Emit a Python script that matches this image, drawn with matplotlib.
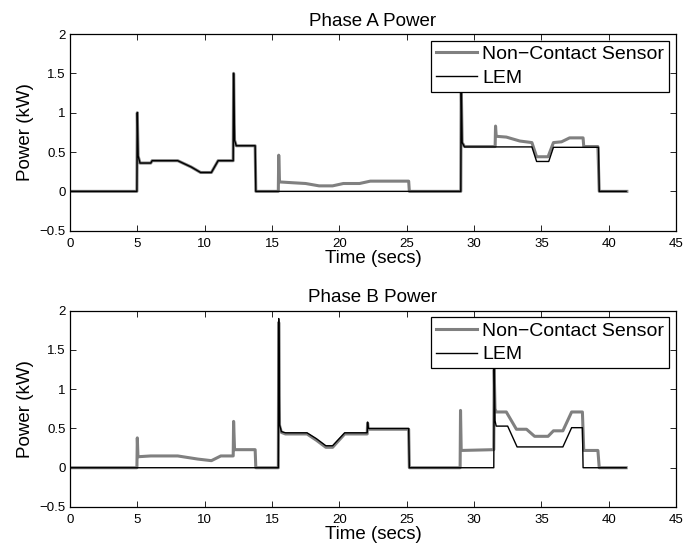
import numpy as np
import matplotlib
matplotlib.use('Agg')
import matplotlib.pyplot as plt

plt.rcParams['font.family'] = ['Liberation Sans', 'DejaVu Sans']
plt.rcParams['axes.unicode_minus'] = True

# Phase A, LEM reference meter (breakpoints: time s, power kW)
a_lem_t = [0, 4.97, 5.0, 5.06, 5.2, 6.0, 6.1, 8.0, 9.0, 9.7, 10.5, 11.0,
           12.12, 12.15, 12.22, 12.35, 13.75, 13.8, 29.02, 29.05, 29.12,
           29.3, 34.3, 34.65, 35.55, 35.9, 39.25, 39.3, 41.3]
a_lem_p = [0, 0, 1.0, 0.45, 0.36, 0.36, 0.39, 0.39, 0.31, 0.24, 0.24, 0.39,
           0.39, 1.5, 0.65, 0.58, 0.58, 0, 0, 1.4, 0.62,
           0.565, 0.565, 0.38, 0.38, 0.56, 0.56, 0, 0]

# Phase A, non-contact sensor
a_ncs_t = [0, 4.97, 5.0, 5.06, 5.2, 6.0, 6.1, 8.0, 9.0, 9.7, 10.5, 11.0,
           12.12, 12.15, 12.22, 12.35, 13.75, 13.8, 15.47, 15.5, 15.56, 16.5,
           17.5, 18.5, 19.5, 20.3, 21.5, 22.3, 25.15, 25.2, 29.02, 29.05,
           29.12, 29.3, 31.57, 31.6, 31.65, 32.4, 33.4, 34.3, 34.65, 35.5,
           35.9, 36.5, 37.1, 38.1, 38.15, 39.2, 39.3, 41.35]
a_ncs_p = [0, 0, 1.0, 0.45, 0.36, 0.36, 0.39, 0.39, 0.31, 0.24, 0.24, 0.39,
           0.39, 1.5, 0.65, 0.58, 0.58, 0, 0, 0.46, 0.12, 0.11,
           0.1, 0.07, 0.07, 0.1, 0.1, 0.13, 0.13, 0, 0, 1.4,
           0.62, 0.57, 0.57, 0.83, 0.7, 0.69, 0.64, 0.62, 0.44, 0.44,
           0.62, 0.63, 0.68, 0.68, 0.57, 0.57, 0, 0]

# Phase B, LEM reference meter
b_lem_t = [0, 15.47, 15.5, 15.56, 15.7, 16.0, 17.6, 18.3, 19.0, 19.5,
           20.4, 22.07, 22.1, 22.15, 25.15, 25.2, 31.47, 31.5, 31.56, 31.65,
           32.5, 33.2, 36.6, 37.25, 38.05, 38.1, 41.3]
b_lem_p = [0, 0, 1.9, 0.55, 0.46, 0.445, 0.445, 0.37, 0.28, 0.28,
           0.445, 0.445, 0.58, 0.5, 0.5, 0, 0, 1.3, 0.6, 0.53,
           0.53, 0.265, 0.265, 0.51, 0.51, 0, 0]

# Phase B, non-contact sensor
b_ncs_t = [0, 4.97, 5.0, 5.05, 6.0, 8.0, 9.5, 10.5, 11.2, 12.12, 12.15, 12.22,
           13.75, 13.8, 15.47, 15.5, 15.56, 15.7, 16.0, 17.6, 18.3,
           19.0, 19.5, 20.4, 22.07, 22.1, 22.15, 25.15, 25.2, 28.97, 29.0,
           29.05, 31.47, 31.5, 31.56, 31.65, 32.4, 33.15, 33.9, 34.5, 35.5,
           35.9, 36.6, 37.25, 38.05, 38.15, 39.2, 39.3, 41.3]
b_ncs_p = [0, 0, 0.38, 0.14, 0.15, 0.15, 0.11, 0.09, 0.15, 0.15, 0.59, 0.23,
           0.23, 0, 0, 1.85, 0.54, 0.45, 0.43, 0.43, 0.35,
           0.26, 0.26, 0.43, 0.43, 0.57, 0.49, 0.49, 0, 0, 0.73,
           0.22, 0.23, 1.25, 0.75, 0.71, 0.71, 0.49, 0.49, 0.40, 0.40,
           0.47, 0.47, 0.71, 0.71, 0.22, 0.22, 0, 0]

panels = [
    ('Phase A Power', a_ncs_t, a_ncs_p, a_lem_t, a_lem_p),
    ('Phase B Power', b_ncs_t, b_ncs_p, b_lem_t, b_lem_p),
]

fig = plt.figure(figsize=(6.99, 5.53), dpi=100)
boxes = [[0.1001, 0.5828, 0.867, 0.3557],
         [0.1001, 0.0832, 0.867, 0.355]]

for box, (title, nt, np_, lt, lp) in zip(boxes, panels):
    ax = fig.add_axes(box)
    ax.plot(nt, np_, color='#808080', lw=2.2, label='Non\u2212Contact Sensor')
    ax.plot(lt, lp, color='black', lw=1.0, label='LEM')
    ax.set_xlim(0, 45)
    ax.set_ylim(-0.5, 2)
    ax.set_xticks(np.arange(0, 46, 5))
    ax.set_yticks([-0.5, 0, 0.5, 1, 1.5, 2])
    ax.set_yticklabels(['\u22120.5', '0', '0.5', '1', '1.5', '2'])
    ax.tick_params(direction='in', top=True, right=True, length=4, width=0.6,
                   labelsize=9.5)
    ax.tick_params(axis='x', pad=5)
    ax.tick_params(axis='y', pad=3)
    for s in ax.spines.values():
        s.set_linewidth(0.9)
    ax.set_title(title, fontsize=13.5, pad=6)
    ax.set_xlabel('Time (secs)', fontsize=13.5, labelpad=0)
    ax.set_ylabel('Power (kW)', fontsize=13.5, labelpad=4)
    leg = ax.legend(loc='upper right', fontsize=14, fancybox=False,
                    edgecolor='black', framealpha=1, handlelength=2.15,
                    handletextpad=0.25, borderpad=0.25, labelspacing=0.3,
                    borderaxespad=0.35)
    leg.get_frame().set_linewidth(0.9)

fig.savefig('out.png', dpi=100, facecolor='white')
